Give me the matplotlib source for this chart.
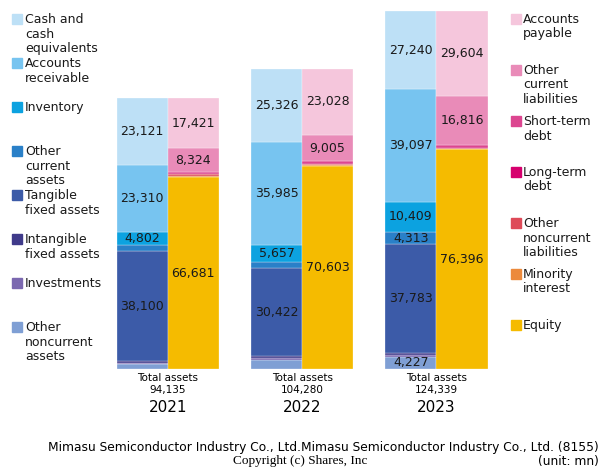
import numpy as np
import matplotlib
matplotlib.use("Agg")
from matplotlib import pyplot as plt
from matplotlib.patches import Rectangle

years = ["2021", "2022", "2023"]
total_assets = [94135, 104280, 124339]

# assets, bottom to top
asset_names = [
    "Other\nnoncurrent\nassets",
    "Investments",
    "Intangible\nfixed assets",
    "Tangible\nfixed assets",
    "Other\ncurrent\nassets",
    "Inventory",
    "Accounts\nreceivable",
    "Cash and\ncash\nequivalents",
]
other_noncurrent_assets = [1600, 3200, 4227]
investments = [500, 590, 470]
intangible = [700, 700, 800]
tangible = [38100, 30422, 37783]
other_current_assets = [2002, 2400, 4313]
inventory = [4802, 5657, 10409]
receivable = [23310, 35985, 39097]
cash = [23121, 25326, 27240]

# liabilities + equity, bottom to top
liab_names = [
    "Equity",
    "Minority\ninterest",
    "Other\nnoncurrent\nliabilities",
    "Long-term\ndebt",
    "Short-term\ndebt",
    "Other\ncurrent\nliabilities",
    "Accounts\npayable",
]
equity = [66681, 70603, 76396]
minority = [309, 144, 123]
other_noncurrent_liab = [700, 400, 300]
long_term_debt = [0, 0, 0]
short_term_debt = [700, 1100, 1100]
other_current_liab = [8324, 9005, 16816]
payable = [17421, 23028, 29604]

asset_colors = ["#7f9fd4", "#7b68b0", "#3f3a8a", "#3c5ba8",
                "#2a80c8", "#0ca2e0", "#77c4f0", "#bde0f6"]
liab_colors = ["#f5bb00", "#ec8a3c", "#de4a58", "#d6006e",
               "#dc4690", "#e98bb8", "#f5c6dc"]

asset_series = [other_noncurrent_assets, investments, intangible, tangible,
                other_current_assets, inventory, receivable, cash]
liab_series = [equity, minority, other_noncurrent_liab, long_term_debt,
               short_term_debt, other_current_liab, payable]

fig = plt.figure(figsize=(6, 4.7), dpi=100)
W, H = 600, 470
ax = fig.add_axes([110 / W, (H - 369) / H, (505 - 110) / W, 358 / H])

x = np.arange(len(years))
width = 0.38
off = 0.19
threshold = 4000


def stack(xpos, series, colors):
    bottom = np.zeros(len(years))
    for vals, col in zip(series, colors):
        vals = np.array(vals, dtype=float)
        ax.bar(xpos, vals, width, bottom=bottom, color=col,
               edgecolor="white", linewidth=0.2)
        for xi, v, b in zip(xpos, vals, bottom):
            if v >= threshold:
                ax.text(xi, b + v / 2, f"{int(v):,}", ha="center", va="center",
                        fontsize=9, color="#1a1a1a")
        bottom += vals


stack(x - off, asset_series, asset_colors)
stack(x + off, liab_series, liab_colors)

ax.set_xlim(-0.43, 2.51)
ax.set_ylim(0, max(total_assets))
ax.axis("off")

# labels under each year
for i, (yr, tot) in enumerate(zip(years, total_assets)):
    xf = ax.transData.transform((x[i], 0))[0] / W
    fig.text(xf, 1 - 378 / H, "Total assets", ha="center", va="center", fontsize=7.5)
    fig.text(xf, 1 - 390 / H, f"{tot:,}", ha="center", va="center", fontsize=7.5)
    fig.text(xf, 1 - 408 / H, yr, ha="center", va="center", fontsize=11)

# left legend (top to bottom)
left_y = [13, 57, 101, 145, 189, 233, 277, 321]
for name, col, yy in zip(asset_names[::-1], asset_colors[::-1], left_y):
    fig.patches.append(Rectangle((12 / W, 1 - (yy + 11) / H), 10 / W, 10 / H,
                                 transform=fig.transFigure, color=col))
    fig.text(25 / W, 1 - yy / H, name, ha="left", va="top", fontsize=9,
             linespacing=1.15, color="#1a1a1a")

right_y = [13, 64, 115, 166, 217, 268, 319]
for name, col, yy in zip(liab_names[::-1], liab_colors[::-1], right_y):
    fig.patches.append(Rectangle((511 / W, 1 - (yy + 11) / H), 10 / W, 10 / H,
                                 transform=fig.transFigure, color=col))
    fig.text(523 / W, 1 - yy / H, name, ha="left", va="top", fontsize=9,
             linespacing=1.15, color="#1a1a1a")

# footer
fig.text(599 / W, 1 - 448 / H,
         "Mimasu Semiconductor Industry Co., Ltd.Mimasu Semiconductor Industry Co., Ltd. (8155)",
         ha="right", va="center", fontsize=8.8)
fig.text(599 / W, 1 - 461 / H, "(unit: mn)", ha="right", va="center", fontsize=8.8)
fig.text(300 / W, 1 - 461 / H, "Copyright (c) Shares, Inc", ha="center", va="center",
         fontsize=9.5, family="Liberation Serif")

fig.savefig("out.png", dpi=100)
